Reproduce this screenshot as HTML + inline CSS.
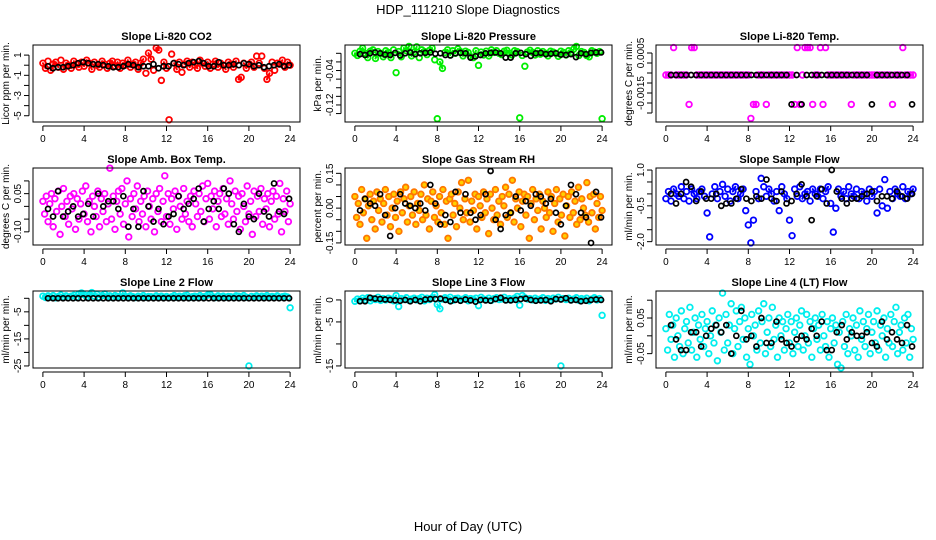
<!DOCTYPE html>
<html><head><meta charset="utf-8">
<style>
html,body{margin:0;padding:0;background:#fff;}
svg{display:block;font-family:"Liberation Sans",Arial,sans-serif;}
</style></head>
<body>
<svg id="chart" width="936" height="540" viewBox="0 0 936 540">
<text x="468" y="14" text-anchor="middle" font-size="13">HDP_111210  Slope Diagnostics</text>
<text x="468" y="531" text-anchor="middle" font-size="13">Hour of Day (UTC)</text>
</svg>
<script>
// ---- data (hour-of-day grid, evenly spaced over 0..24) ----
const xTicks = [0,4,8,12,16,20,24];
const titles = ["Slope Li-820 CO2","Slope Li-820 Pressure","Slope Li-820 Temp.","Slope Amb. Box Temp.","Slope Gas Stream RH","Slope Sample Flow","Slope Line 2 Flow","Slope Line 3 Flow","Slope Line 4 (LT) Flow"];
const yTitles = ["Licor ppm per min.","kPa per min.","degrees C per min.","degrees C per min.","percent per min.","ml/min per min.","ml/min per min.","ml/min per min.","ml/min per min."];
const colors = ["#ff0000","#00ee00","#ff00ff","#ff00ff","#ff7700","#0000ff","#00eeee","#00eeee","#00eeee"];
const fills = ["none","none","none","none","#ffd000","none","none","none","none"];

const co2Vals = [0.2,-0.3,0.4,-0.5,0.1,0.3,-0.2,0.5,-0.4,0.2,0.0,-0.3,0.4,0.1,-0.2,0.3,-0.1,0.5,0.2,-0.4,0.3,0.0,-0.2,0.4,0.1,-0.3,0.2,0.4,-0.1,0.3,-0.3,0.2,0.0,0.5,-0.2,0.1,0.3,-0.4,0.2,0.6,-0.8,1.2,0.6,-0.5,1.7,1.5,-1.5,0.3,-0.3,-5.4,1.1,0.2,-0.4,0.3,-0.7,0.1,0.4,-0.2,0.3,0.0,-0.3,0.5,0.2,-0.1,0.3,-0.3,0.1,0.4,-0.2,0.2,0.0,-0.4,0.3,0.1,-0.2,0.4,-1.4,-1.2,0.2,-0.3,0.1,0.3,-0.2,0.9,0.2,0.9,-0.3,-1.4,-0.8,0.3,-0.5,0.2,0.1,0.5,-0.2,0.3,0.0];
const co2Black = [-0.1,-0.3,-0.2,-0.2,-0.1,0.0,0.2,0.3,0.2,0.1,0.1,0.0,-0.1,-0.2,-0.2,-0.1,0.1,0.0,-0.2,-0.1,-0.1,0.1,-0.3,-0.1,-0.1,0.2,0.1,0.0,0.2,0.3,0.4,0.2,-0.1,-0.1,0.3,0.0,0.0,0.1,0.0,0.2,0.1,-0.1,0.0,-0.2,-0.1,0.0,0.1,-0.1,0.0];

const presVals = [0.0,-0.005,0.005,0.012,0.0,-0.01,0.005,0.008,-0.012,0.004,0.0,-0.008,0.006,0.002,-0.01,0.008,-0.045,0.004,-0.008,0.012,0.006,0.016,-0.006,0.003,0.015,-0.01,0.008,0.004,-0.003,0.007,0.012,-0.015,-0.152,-0.02,-0.035,0.002,0.008,-0.004,0.006,0.0,0.01,0.004,-0.006,0.005,0.002,-0.008,-0.01,0.006,-0.028,0.003,-0.004,0.005,-0.006,0.008,0.002,0.006,0.0,-0.003,0.005,0.007,0.0,-0.004,0.006,0.004,-0.15,-0.005,-0.03,0.003,0.007,0.002,-0.004,0.006,-0.002,0.004,0.0,-0.006,0.005,0.003,0.0,-0.007,0.005,0.002,-0.004,0.006,0.002,0.01,0.016,-0.005,0.004,0.002,-0.005,-0.008,0.006,0.003,0.0,0.004,-0.152];
const presBlack = [-0.002,-0.004,0.0,0.002,0.0,-0.003,-0.004,0.001,-0.005,0.0,0.002,-0.002,0.0,0.001,0.002,-0.001,0.0,-0.004,-0.005,0.0,0.001,0.0,-0.01,-0.007,-0.004,0.0,0.001,0.002,0.0,-0.01,-0.01,0.0,0.001,-0.002,-0.006,0.0,0.001,-0.002,-0.001,0.0,-0.003,-0.004,-0.002,-0.009,0.0,-0.002,0.001,0.002,0.002];

const tempVals = [-0.0006,-0.0006,-0.0006,0.00077,-0.0006,-0.0006,-0.0006,-0.0006,-0.0006,-0.00207,0.00077,0.00077,-0.0006,-0.0006,-0.0006,-0.0006,-0.0006,-0.0006,-0.0006,-0.0006,-0.0006,-0.0006,-0.0006,-0.0006,-0.0006,-0.0006,-0.0006,-0.0006,-0.0006,-0.0006,-0.0006,-0.0006,-0.0006,-0.00277,-0.00207,-0.00207,-0.0006,-0.0006,-0.0006,-0.00207,-0.0006,-0.0006,-0.0006,-0.0006,-0.0006,-0.0006,-0.0006,-0.0006,-0.0006,-0.0006,-0.00207,0.00077,-0.00207,-0.0006,0.00077,0.00077,0.00077,-0.00207,-0.0006,-0.0006,0.00077,-0.00207,0.00077,-0.0006,-0.0006,-0.0006,-0.0006,-0.0006,-0.0006,-0.0006,-0.0006,-0.0006,-0.00207,-0.0006,-0.0006,-0.0006,-0.0006,-0.0006,-0.0006,-0.0006,-0.0006,-0.0006,-0.0006,-0.0006,-0.0006,-0.0006,-0.0006,-0.0006,-0.00207,-0.0006,-0.0006,-0.0006,0.00077,-0.0006,-0.0006,-0.0006,-0.0006];
const tempBlack = [-0.0006,-0.0006,-0.0006,-0.0006,-0.0006,-0.0006,-0.0006,-0.0006,-0.0006,-0.0006,-0.0006,-0.0006,-0.0006,-0.0006,-0.0006,-0.0006,-0.0006,-0.0006,-0.0006,-0.0006,-0.0006,-0.0006,-0.0006,-0.0006,-0.00207,-0.0006,-0.00207,-0.0006,-0.0006,-0.0006,-0.0006,-0.0006,-0.0006,-0.0006,-0.0006,-0.0006,-0.0006,-0.0006,-0.0006,-0.0006,-0.00207,-0.0006,-0.0006,-0.0006,-0.0006,-0.0006,-0.0006,-0.0006,-0.00207];

const ambVals = [0.02,-0.03,0.04,-0.06,0.01,0.05,-0.08,0.03,-0.02,0.06,-0.11,0.0,0.07,-0.04,0.02,-0.07,0.04,-0.01,0.05,-0.09,0.03,-0.05,0.01,0.06,-0.03,0.08,-0.06,0.02,-0.1,0.04,0.0,-0.04,0.06,-0.08,0.03,-0.02,0.05,-0.06,0.01,0.15,-0.05,0.04,-0.09,0.02,0.06,-0.03,0.07,-0.07,0.01,0.1,-0.12,0.03,-0.04,0.05,-0.01,0.08,-0.06,0.02,-0.03,0.04,-0.08,0.06,0.0,-0.05,0.03,-0.1,0.05,-0.02,0.07,-0.06,0.02,0.12,-0.04,0.05,-0.07,0.03,-0.01,0.06,-0.09,0.04,0.0,-0.05,0.07,-0.03,0.02,-0.06,0.04,-0.08,0.06,0.01,-0.04,0.05,-0.02,0.08,-0.06,0.03,0.09,-0.05,0.04,-0.01,0.06,-0.08,0.02,0.05,-0.04,0.07,-0.03,0.03,-0.07,0.1,0.01,-0.05,0.06,-0.02,0.04,-0.09,0.05,0.0,-0.06,0.08,-0.03,0.02,-0.11,0.06,-0.04,0.04,-0.02,0.07,-0.07,0.03,-0.01,0.05,-0.08,0.02,0.06,-0.05,0.04,-0.03,0.09,-0.1,0.03,-0.02,0.06,-0.06,0.01];
const ambBlack = [-0.01,-0.04,0.06,-0.04,-0.02,0.0,-0.04,-0.03,0.01,-0.04,0.05,0.0,0.02,0.02,-0.01,0.04,-0.08,-0.01,-0.08,0.06,0.0,-0.06,-0.01,-0.07,-0.04,-0.03,0.04,-0.01,0.01,0.03,0.07,-0.06,-0.01,0.02,-0.01,0.07,0.05,-0.07,-0.10,0.01,-0.04,-0.05,0.05,-0.02,-0.04,0.09,-0.02,-0.03,0.03];

const rhVals = [0.05,-0.04,0.02,-0.07,0.08,-0.02,0.04,-0.13,0.01,0.06,-0.05,0.03,-0.09,0.07,-0.01,0.04,-0.06,0.02,0.08,-0.03,0.05,-0.08,0.0,0.06,-0.04,0.03,-0.1,0.07,-0.02,0.04,0.09,-0.06,0.01,0.05,-0.03,0.07,-0.07,0.02,-0.01,0.06,-0.05,0.1,-0.03,0.04,-0.09,0.03,0.07,-0.04,0.01,-0.06,0.05,-0.02,0.08,-0.07,0.03,-0.13,0.04,0.06,-0.03,0.02,-0.08,0.07,0.0,0.11,-0.05,0.04,-0.02,0.12,-0.06,0.03,-0.01,0.06,-0.09,0.05,0.01,-0.04,0.07,-0.02,0.04,-0.11,0.06,0.0,-0.05,0.08,-0.03,0.03,-0.07,0.05,0.01,0.09,-0.04,0.06,-0.02,0.12,-0.06,0.04,0.0,0.07,-0.08,0.03,0.06,-0.03,0.05,-0.13,0.02,0.08,-0.05,0.04,-0.01,0.06,-0.09,0.03,0.0,-0.04,0.07,-0.02,0.05,-0.1,0.02,0.08,-0.06,0.04,-0.03,0.06,-0.12,0.01,0.05,-0.04,0.07,-0.02,0.03,-0.07,0.09,-0.05,0.04,0.0,-0.03,0.11,-0.06,0.05,-0.02,0.06,-0.09,0.02,-0.04,0.05,-0.01];
const rhBlack = [-0.01,0.04,0.02,0.01,0.06,-0.03,-0.12,0.0,0.06,0.02,0.01,0.0,0.02,-0.01,0.1,0.02,-0.07,-0.03,-0.06,0.07,-0.02,0.06,-0.02,-0.05,-0.03,0.06,0.16,-0.05,-0.09,-0.03,-0.02,0.05,-0.01,0.03,0.01,0.06,0.05,0.02,0.04,-0.02,-0.07,0.01,0.10,0.06,-0.02,-0.04,-0.15,0.07,-0.04];

const sflowVals = [-0.2,0.1,-0.3,0.2,0.0,-0.1,0.3,-0.2,0.1,-0.3,0.2,0.0,-0.2,0.1,0.2,-0.1,-0.8,-1.8,0.0,0.3,-0.2,0.1,0.4,-0.1,0.2,-0.3,0.1,0.3,-0.2,0.0,0.2,-0.7,-1.3,-2.05,-1.1,0.1,-0.2,0.65,0.3,-0.1,0.2,0.0,-0.3,0.1,-0.7,0.3,0.0,-0.2,-1.1,-1.75,0.2,-0.1,0.3,-0.2,0.0,0.1,-0.3,0.2,0.0,-0.1,0.2,-0.2,0.1,0.3,-0.4,-1.6,-0.6,0.2,-0.1,0.1,-0.2,0.3,0.0,-0.1,0.2,-0.2,0.1,0.0,-0.3,0.2,-0.1,0.1,-0.8,0.2,-0.5,0.6,-0.6,0.1,-0.2,0.2,0.0,-0.1,0.3,-0.2,0.1,0.0,0.2];
const sflowBlack = [0.0,-0.4,0.0,0.5,0.3,-0.3,0.1,-0.2,-0.2,0.0,-0.5,-0.4,-0.4,-0.2,0.2,-0.2,-0.3,-0.1,-0.2,0.6,-0.2,-0.3,0.1,-0.4,-0.3,0.0,0.4,-0.1,-1.1,-0.1,0.2,-0.4,1.0,0.1,-0.2,-0.4,-0.2,-0.2,-0.1,0.0,0.1,-0.3,-0.1,-0.1,-0.2,0.1,-0.1,-0.2,0.0];

const l2Vals = [0.8,0.3,0.9,0.4,1.0,0.2,0.7,1.2,0.5,0.9,0.3,0.8,1.1,0.4,1.6,2.0,1.3,0.5,1.2,2.1,0.8,1.5,0.4,1.0,1.6,0.6,0.9,0.3,1.0,0.7,0.5,2.0,0.8,0.4,0.9,0.6,0.3,0.8,0.5,1.0,0.4,0.7,0.6,0.3,0.9,0.5,0.8,0.4,0.7,0.3,0.6,1.0,0.4,0.8,0.5,0.9,1.1,0.3,0.6,0.8,0.4,1.0,0.5,0.7,1.2,1.4,0.6,0.3,0.9,0.5,0.8,0.4,0.7,0.6,0.3,0.9,0.8,0.5,1.0,0.4,-25,0.7,0.5,0.9,0.3,0.8,0.6,1.0,0.4,0.7,0.5,0.9,0.3,0.6,0.8,0.5,-3.5];
const l2Black = [0,0,0,0,0,0,0,0,0,0,0,0,0,0,0,0,0,0,0,0,0,0,0,0,0,0,0,0,0,0,0,0,0,0,0,0,0,0,0,0,0,0,0,0,0,0,0,0,0];

const l3Vals = [-0.3,0.2,-0.1,0.4,0.0,0.5,-0.2,0.3,0.1,0.6,-0.1,0.3,0.0,0.4,0.2,-0.2,1.0,-1.5,0.3,0.1,0.5,-0.1,0.2,0.4,0.0,0.3,0.6,-0.2,0.4,0.1,0.5,1.2,-1.0,-2.0,0.2,0.5,0.1,0.6,-0.1,0.3,0.4,0.0,0.2,0.5,-0.2,0.3,0.1,0.4,-1.3,0.6,0.2,0.0,0.4,-0.1,0.3,0.5,0.1,0.2,0.6,0.0,0.3,0.1,0.4,0.8,-1.2,1.0,0.5,0.2,0.3,0.0,0.4,0.1,0.2,0.5,-0.1,0.3,0.0,0.4,0.2,0.6,-15,0.3,0.1,0.4,0.0,0.2,0.5,-0.1,0.3,0.1,0.4,-0.2,0.2,0.5,0.0,0.3,-3.5];
const l3Black = [-0.3,-0.3,0.5,0.3,0.2,0.1,0.0,-0.1,-0.2,0.0,-0.3,0.0,-0.3,0.1,0.2,0.2,0.3,0.0,-0.3,0.0,-0.2,0.1,-0.1,-0.4,0.0,-0.1,-0.2,0.2,0.5,-0.1,-0.1,0.0,0.2,0.3,0.0,-0.2,-0.1,0.0,-0.3,0.2,0.1,0.4,-0.1,0.0,-0.3,-0.2,0.0,0.1,0.0];

const l4Vals = [0.02,-0.04,0.06,-0.01,0.03,-0.06,0.05,0.0,-0.03,0.07,-0.05,0.02,0.04,-0.02,0.08,-0.04,0.01,0.05,-0.06,0.03,-0.01,0.06,-0.03,0.02,0.04,-0.05,0.0,0.07,-0.02,0.03,-0.07,0.05,0.01,0.12,-0.04,0.06,-0.02,0.03,0.09,-0.05,0.02,0.07,-0.03,0.04,0.08,-0.01,0.05,-0.06,0.02,-0.08,0.06,0.0,0.03,-0.04,0.07,-0.02,0.04,0.09,-0.05,0.01,0.05,-0.03,0.08,-0.01,0.03,-0.06,0.05,0.0,0.04,-0.04,0.02,0.06,-0.02,0.04,-0.05,0.01,0.05,-0.03,0.03,0.07,-0.04,0.0,0.06,-0.02,0.04,-0.06,0.02,0.05,-0.01,0.03,-0.04,0.06,0.0,-0.03,0.04,-0.06,0.02,0.05,-0.02,0.03,-0.08,0.01,-0.09,0.04,-0.03,0.06,-0.05,0.02,0.0,0.05,-0.04,0.03,-0.06,0.07,-0.01,0.04,-0.03,0.02,0.06,-0.05,0.01,0.04,-0.02,0.07,-0.04,0.03,0.0,0.05,-0.06,0.02,-0.02,0.06,-0.03,0.04,0.08,-0.05,0.01,0.03,-0.04,0.05,-0.02,0.06,-0.06,0.02,-0.01];
const l4Black = [0.03,-0.01,-0.04,-0.04,0.01,0.01,-0.03,0.0,0.02,0.03,0.01,0.03,-0.05,0.0,0.07,-0.01,0.0,-0.03,0.05,-0.02,-0.02,0.04,-0.01,-0.02,-0.03,-0.01,0.0,-0.01,0.02,0.0,0.04,-0.04,-0.04,0.01,0.03,-0.01,0.01,0.0,0.0,0.01,-0.02,-0.03,0.04,-0.01,0.01,-0.01,-0.02,0.03,-0.03];

const colorSeries = [co2Vals,presVals,tempVals,ambVals,rhVals,sflowVals,l2Vals,l3Vals,l4Vals];
const blackSeries = [co2Black,presBlack,tempBlack,ambBlack,rhBlack,sflowBlack,l2Black,l3Black,l4Black];
const yTickVals = [[1,0,-1,-2,-3,-4,-5],[0,-0.02,-0.04,-0.06,-0.08,-0.10,-0.12,-0.14],[0.0005,0,-0.0005,-0.001,-0.0015,-0.002,-0.0025],[0.10,0.05,0,-0.05,-0.10],[0.15,0.10,0.05,0,-0.05,-0.10,-0.15],[1,0.5,0,-0.5,-1,-1.5,-2],[0,-5,-10,-15,-20,-25],[0,-5,-10,-15],[0.10,0.05,0,-0.05]];
const yTickLabels = [["1","","-1","","-3","","-5"],["","","-0.04","","","","-0.12",""],["0.0005","","","","-0.0015","",""],["","0.05","","","-0.10"],["0.15","","","0.00","","","-0.15"],["1.0","","","-0.5","","","-2.0"],["","-5","","-15","","-25"],["0","-5","","-15"],["","0.05","","-0.05"]];
const yDomains = [[-5.62,2.0],[-0.1596,0.0193],[-0.00295,0.0009],[-0.1517,0.1507],[-0.159,0.173],[-2.14,1.085],[-25.76,2.7],[-15.47,2.03],[-0.0903,0.1258]];

// ---- layout ----
const NS = "http://www.w3.org/2000/svg";
const svg = document.getElementById("chart");
const colLeft = [33,345,656], boxW = 267, rowTop = [45,168,291], boxH = 77;
const xDom = [-0.96,24.96];
function mk(tag, attrs, parent){ const e=document.createElementNS(NS,tag); for(const k in attrs) e.setAttribute(k,attrs[k]); (parent||svg).appendChild(e); return e; }

for(let p=0;p<9;p++){
  const L=colLeft[p%3], T=rowTop[Math.floor(p/3)];
  const g = mk("g",{});
  
  
  const xs = v => L + (v-xDom[0])/(xDom[1]-xDom[0])*boxW;
  const ys = v => T + boxH - (v-yDomains[p][0])/(yDomains[p][1]-yDomains[p][0])*boxH;
  const t = mk("text",{x:L+boxW/2,y:T-5,"text-anchor":"middle","font-size":"11","font-weight":"bold"},g);
  t.textContent = titles[p];
  
  
  const cs = colorSeries[p];
  // overplotting fill: short links only between nearby points (no spikes to outliers)
  let d = "";
  for(let i=1;i<cs.length;i++){
    const x0=xs((i-1)*24/(cs.length-1)), y0=ys(cs[i-1]), x1=xs(i*24/(cs.length-1)), y1=ys(cs[i]);
    if(Math.abs(y1-y0)<=7) d += `M${x0.toFixed(1)},${y0.toFixed(1)}L${x1.toFixed(1)},${y1.toFixed(1)}`;
  }
  const band = mk("path",{d:d,fill:"none",stroke:colors[p],"stroke-width":2,"stroke-linecap":"round"},g);
  
  
  cs.forEach((v,i)=>{
    const c = mk("circle",{cx:xs(i*24/(cs.length-1)),cy:ys(v),r:2.8,fill:fills[p],stroke:colors[p],"stroke-width":1.8},g);
    
    
  });
  const bs = blackSeries[p];
  bs.forEach((v,i)=>{
    const c = mk("circle",{cx:xs(0.5+i*23.4/(bs.length-1)),cy:ys(v),r:2.5,fill:"none",stroke:"#000","stroke-width":1.7},g);
    
    
  });
  const box = mk("rect",{x:L,y:T,width:boxW,height:boxH,fill:"none",stroke:"#000","stroke-width":1},g);
  
  
  const xa = mk("g",{},g);
  
  
  mk("line",{x1:xs(0),x2:xs(24),y1:T+boxH+4,y2:T+boxH+4,stroke:"#000"},xa);
  xTicks.forEach(v=>{
    mk("line",{x1:xs(v),x2:xs(v),y1:T+boxH+4,y2:T+boxH+9,stroke:"#000"},xa);
    const tl = mk("text",{x:xs(v),y:T+boxH+20,"text-anchor":"middle","font-size":"10"},xa);
    tl.textContent = v;
    
    
  });
  const ya = mk("g",{},g);
  
  
  const yt = yTickVals[p];
  mk("line",{x1:L-4,x2:L-4,y1:ys(yt[0]),y2:ys(yt[yt.length-1]),stroke:"#000"},ya);
  yt.forEach((v,i)=>{
    mk("line",{x1:L-9,x2:L-4,y1:ys(v),y2:ys(v),stroke:"#000"},ya);
    const lab = yTickLabels[p][i];
    if(lab){
      const tl = mk("text",{x:L-12,y:ys(v),"text-anchor":"middle","font-size":"10",transform:`rotate(-90 ${L-12} ${ys(v)})`},ya);
      tl.textContent = lab;
      
      
    }
  });
  const yl = mk("text",{x:L-24,y:T+boxH/2,"text-anchor":"middle","font-size":"10",transform:`rotate(-90 ${L-24} ${T+boxH/2})`},g);
  yl.textContent = yTitles[p];
  
  
}
</script>
</body></html>
